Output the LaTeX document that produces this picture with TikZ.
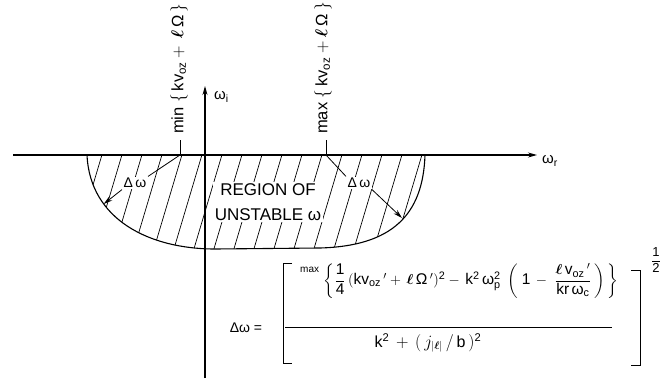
\documentclass[tikz,border=0pt]{standalone}
\usepackage{amsmath}
\usepackage{fontspec}
\setmainfont{Liberation Sans}
\setsansfont{Liberation Sans}
\usetikzlibrary{arrows.meta,positioning}

\begin{document}
\begin{tikzpicture}[x=1pt, y=-1pt, >={Stealth[length=9pt,width=5pt]}, font=\fontsize{14}{16}\selectfont]

% Styles
\tikzstyle{axis} = [line width=1.1pt, ->]
\tikzstyle{hatch} = [line width=0.7pt]
\tikzstyle{region} = [line width=1.1pt]
\tikzstyle{lbl} = [fill=white, inner sep=1.5pt]
\tikzstyle{axlbl} = [rotate=90, anchor=west, inner sep=0pt, font=\fontsize{16.5}{19}\selectfont]
\tikzstyle{wlbl} = [font=\fontsize{15}{17}\selectfont, inner sep=1pt]
\tikzstyle{lead} = [line width=0.8pt]

\useasboundingbox (0,0) rectangle (662,383);

% Axes
\coordinate (xl) at (13,155);
\coordinate (xr) at (537,155);
\coordinate (yb) at (205,378);
\coordinate (yt) at (205,86);
\coordinate (mintick) at (180,155);
\coordinate (maxtick) at (326,155);
\coordinate (lcurve) at (103.7,204);
\coordinate (rcurve) at (402,218);

% Hatched region
\begin{scope}
  \clip (87,155) .. controls (90,220) and (150,249) .. (215,249) -- (320,248)
        .. controls (392,246) and (423,215) .. (425,155) -- cycle;
  \foreach \x in {102,122,...,442}
    \draw[hatch] (\x+2,148) -- (\x-29,252);
\end{scope}
\draw[region] (87,155) .. controls (90,220) and (150,249) .. (215,249) -- (320,248)
      .. controls (392,246) and (423,215) .. (425,155);

\draw[axis] (xl) -- (xr);
\draw[axis] (yb) -- (yt);
\draw[lead] (mintick) -- ++(0,-15);
\draw[lead] (maxtick) -- ++(0,-15);

% Nodes
\node[wlbl, right=4pt of xr, yshift=-6pt] (wr) {ω$_{\mathrm{r}}$};
\node[wlbl, right=8pt of yt, yshift=-11pt] (wi) {ω$_{\mathrm{i}}$};
\node[axlbl] (minlab) at (179,134) {min $\{\,\mathrm{kv}_{\mathrm{oz}}+\,\boldsymbol{\ell}\,\text{Ω}\,\}$};
\node[axlbl] (maxlab) at (323,134) {max $\{\,\mathrm{kv}_{\mathrm{oz}}+\boldsymbol{\ell}\,\text{Ω}\,\}$};
\node[lbl, align=center, font=\fontsize{17}{25}\selectfont] (unstable) at (268,202) {REGION OF\\UNSTABLE ω};
\node[lbl] (dwl) at (135,183) {Δ\,ω};
\node[lbl] (dwr) at (359,183) {Δ\,ω};

% Leaders
\draw[lead] (dwl.north east) -- (mintick);
\draw[lead] (maxtick) -- (dwr.north west);
\draw[lead, ->] (dwl.south west) -- (lcurve);
\draw[lead, ->] (dwr.south east) -- (rcurve);

% Formula
\node (dwlhs) at (246,328) {Δω =};
\node[font=\fontsize{15.5}{18}\selectfont] (num) at (459,281) {$\raisebox{1.5ex}{\fontsize{10}{12}\selectfont max}\,\left\{\dfrac{\text{1}}{\text{4}}\,(\mathrm{kv}_{\mathrm{oz}}\,'+\,\boldsymbol{\ell}\,\text{Ω}\,')^{\text{2}}-\,\mathrm{k}^{\text{2}}\,\text{ω}_{\mathrm{p}}^{\text{2}}\;\left(\;\text{1}\,-\;\dfrac{\boldsymbol{\ell}\,\mathrm{v}_{\mathrm{oz}}\,'}{\mathrm{kr}\,\text{ω}_{\mathrm{c}}}\,\right)\,\right\}$};
\node[font=\fontsize{16}{18}\selectfont] (den) at (428,343) {$\mathrm{k}^{\text{2}}\,+\,(\,j_{|\boldsymbol{\ell}|}\,/\,\mathrm{b}\,)^{\text{2}}$};
\node[font=\fontsize{13}{15}\selectfont] (half) at (656,260) {$\dfrac{\text{1}}{\text{2}}$};
\draw[lead] (285,327) -- (612,327);
\draw[lead] (292,263) -- (283,263) -- (283,363) -- (292,363);
\draw[lead] (631,270) -- (640,270) -- (640,365) -- (631,365);

\end{tikzpicture}
\end{document}
